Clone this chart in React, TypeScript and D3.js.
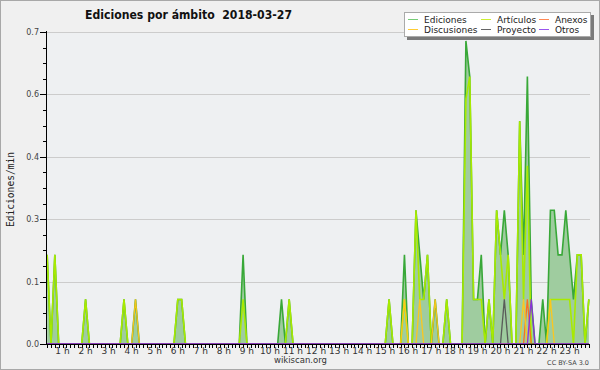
import React, { useEffect, useRef } from "react";
import * as d3 from "d3";

// 10 minute bins, first bin at 00:20
const binStartMin = 20;
const binStepMin = 10;

// Ediciones (total) per bin, edits/min
const ediciones = [
  0.2, 0, 0.2, 0, 0, 0, 0, 0, 0, 0, 0.1, 0,
  0, 0, 0, 0, 0, 0, 0, 0, 0.1, 0, 0, 0.1,
  0, 0, 0, 0, 0, 0, 0, 0, 0, 0, 0.1, 0.1,
  0, 0, 0, 0, 0, 0, 0, 0, 0, 0, 0, 0,
  0, 0, 0, 0.2, 0, 0, 0, 0, 0, 0, 0, 0,
  0, 0.1, 0, 0.1, 0, 0, 0, 0, 0, 0, 0, 0,
  0, 0, 0, 0, 0, 0, 0, 0, 0, 0, 0, 0,
  0, 0, 0, 0, 0, 0.1, 0, 0, 0, 0.2, 0, 0,
  0.3, 0.2, 0.1, 0.2, 0, 0.1, 0, 0, 0.1, 0, 0, 0,
  0, 0.68, 0.6, 0.1, 0.1, 0.2, 0, 0.1, 0, 0.3, 0.2, 0.3,
  0.2, 0, 0, 0.5, 0.2, 0.6, 0.1, 0, 0, 0.1, 0, 0.3,
  0.3, 0.2, 0.2, 0.3, 0.2, 0.1, 0.2, 0.2, 0, 0.1,
];

const articulos = [
  0.2, 0, 0.2, 0, 0, 0, 0, 0, 0, 0, 0.1, 0,
  0, 0, 0, 0, 0, 0, 0, 0, 0.1, 0, 0, 0,
  0, 0, 0, 0, 0, 0, 0, 0, 0, 0, 0.1, 0.1,
  0, 0, 0, 0, 0, 0, 0, 0, 0, 0, 0, 0,
  0, 0, 0, 0.1, 0, 0, 0, 0, 0, 0, 0, 0,
  0, 0, 0, 0.1, 0, 0, 0, 0, 0, 0, 0, 0,
  0, 0, 0, 0, 0, 0, 0, 0, 0, 0, 0, 0,
  0, 0, 0, 0, 0, 0.1, 0, 0, 0, 0.1, 0, 0,
  0.3, 0.1, 0.1, 0.2, 0, 0, 0, 0, 0.1, 0, 0, 0,
  0, 0.55, 0.6, 0.1, 0.1, 0.1, 0, 0.1, 0, 0.3, 0.2, 0.1,
  0.2, 0, 0, 0.5, 0.1, 0.4, 0, 0, 0, 0, 0, 0.1,
  0.1, 0.1, 0.1, 0.1, 0.1, 0, 0.2, 0.2, 0, 0.1,
];

// sparse series: [bin index, edits/min]
const discusiones = [[23, 0.1], [93, 0.1], [97, 0.1], [101, 0.1], [124, 0.1], [131, 0.1]];
const anexos = [[125, 0.1]];
const proyecto = [[119, 0.1]];
const otros = [[126, 0.1]];

const yTicks = [0, 0.14, 0.28, 0.42, 0.56, 0.7];
const yTickLabels = ["0.0", "0.1", "0.3", "0.4", "0.6", "0.7"];
const hourLabels = d3.range(1, 24).map(h => `${h} h`);

const legendItems = [
  { name: "Ediciones", color: "#77cc77", col: 0, row: 0 },
  { name: "Artículos", color: "#ccee33", col: 1, row: 0 },
  { name: "Anexos", color: "#ff8855", col: 2, row: 0 },
  { name: "Discusiones", color: "#ffcc33", col: 0, row: 1 },
  { name: "Proyecto", color: "#666666", col: 1, row: 1 },
  { name: "Otros", color: "#9955ee", col: 2, row: 1 },
];

const dense = (pairs: number[][]) => {
  const arr = ediciones.map(() => 0);
  pairs.forEach(([i, v]) => (arr[i] = v));
  return arr;
};

export default function App() {
  const ref = useRef<SVGSVGElement>(null);

  useEffect(() => {
    const svg = d3.select(ref.current);
    svg.selectAll("*").remove();

    const left = 46, right = 590, top = 32, bottom = 344;
    const x = d3.scaleLinear().domain([17, 1433]).range([left, right]);
    const y = d3.scaleLinear().domain([0, 0.7]).range([bottom, top]);
    const binX = (i: number) => x(binStartMin + i * binStepMin);

    // backgrounds
    svg.append("rect").attr("width", 600).attr("height", 370).attr("fill", "#f0f0f0");
    svg.append("rect").attr("x", 0.5).attr("y", 0.5).attr("width", 599).attr("height", 369)
      .attr("fill", "none").attr("stroke", "#a8a8a8");
    svg.append("rect").attr("x", left).attr("y", top).attr("width", right - left).attr("height", bottom - top)
      .attr("fill", "#eef0f2");

    // grid
    svg.selectAll(".grid").data(yTicks.slice(1)).join("line").attr("class", "grid")
      .attr("x1", left).attr("x2", right).attr("y1", d => Math.round(y(d)) + 0.5).attr("y2", d => Math.round(y(d)) + 0.5)
      .attr("stroke", "#cccccc");

    // area + lines
    const area = d3.area<number>().x((d, i) => binX(i)).y0(y(0)).y1(d => y(d));
    const line = d3.line<number>().x((d, i) => binX(i)).y(d => y(d));

    svg.append("path").attr("d", area(ediciones)).attr("fill", "#9fcc9f");
    svg.append("path").attr("d", line(ediciones)).attr("fill", "none").attr("stroke", "#38a838").attr("stroke-width", 1.6);
    svg.append("path").attr("d", line(articulos)).attr("fill", "none").attr("stroke", "#a8ea00").attr("stroke-width", 1.6);

    const extra = [
      { data: dense(anexos), color: "#ff6a1a" },
      { data: dense(discusiones), color: "#ffc61a" },
      { data: dense(proyecto), color: "#555555" },
      { data: dense(otros), color: "#8a2be2" },
    ];
    extra.forEach(s => {
      svg.append("path").attr("d", line(s.data)).attr("fill", "none").attr("stroke", s.color).attr("stroke-width", 1.3)
        .attr("stroke-opacity", 0.95);
    });
    // redraw baseline where zero lines cover the axis
    // y axis
    const axis = svg.append("g").attr("stroke", "#000").attr("shape-rendering", "crispEdges");
    axis.append("line").attr("x1", left).attr("x2", left).attr("y1", top - 1).attr("y2", bottom + 1);
    axis.selectAll(".ymin").data(d3.range(0, 21)).join("line")
      .attr("x1", left - 3).attr("x2", left).attr("y1", d => Math.round(y(d * 0.035)) + 0.5).attr("y2", d => Math.round(y(d * 0.035)) + 0.5);
    axis.selectAll(".ymaj").data(yTicks).join("line")
      .attr("x1", left - 6).attr("x2", left).attr("y1", d => Math.round(y(d)) + 0.5).attr("y2", d => Math.round(y(d)) + 0.5);

    svg.selectAll(".ylab").data(yTicks).join("text")
      .attr("x", 39).attr("y", d => y(d) + 3)
      .attr("text-anchor", "end").attr("font-family", "DejaVu Sans").attr("font-size", 8).attr("fill", "#444")
      .text((d, i) => yTickLabels[i]);

    // x axis
    axis.append("line").attr("x1", left).attr("x2", right).attr("y1", bottom + 0.5).attr("y2", bottom + 0.5);
    axis.selectAll(".xtick").data(d3.range(20, 1434, 10)).join("line")
      .attr("x1", d => Math.round(x(d)) + 0.5).attr("x2", d => Math.round(x(d)) + 0.5)
      .attr("y1", bottom).attr("y2", bottom + 4);

    svg.selectAll(".xlab").data(hourLabels).join("text")
      .attr("x", (d, i) => x((i + 1) * 60)).attr("y", 353.5)
      .attr("text-anchor", "middle").attr("font-family", "DejaVu Sans").attr("font-size", 9).attr("fill", "#333")
      .text(d => d);

    // titles
    svg.append("text").attr("x", 188.5).attr("y", 18.5).attr("text-anchor", "middle")
      .attr("font-family", "DejaVu Sans").attr("font-weight", "bold").attr("font-size", 11.5).attr("fill", "#111")
      .style("white-space", "pre").attr("textLength", 207).attr("lengthAdjust", "spacingAndGlyphs")
      .text("Ediciones por ámbito  2018-03-27");

    svg.append("text").attr("transform", "translate(14,189.5) rotate(-90)").attr("text-anchor", "middle")
      .attr("font-family", "DejaVu Sans Mono").attr("font-size", 9.6).attr("fill", "#222")
      .text("Ediciones/min");

    svg.append("text").attr("x", 300.5).attr("y", 362.5).attr("text-anchor", "middle")
      .attr("font-family", "DejaVu Sans").attr("font-size", 8.5).attr("fill", "#333").text("wikiscan.org");
    svg.append("text").attr("x", 589).attr("y", 364.5).attr("text-anchor", "end")
      .attr("font-family", "DejaVu Sans").attr("font-size", 6.5).attr("fill", "#444").text("CC BY-SA 3.0");

    // legend
    const lg = svg.append("g");
    lg.append("rect").attr("x", 407).attr("y", 15).attr("width", 187).attr("height", 25).attr("fill", "#7a7a7a");
    lg.append("rect").attr("x", 404.5).attr("y", 12.5).attr("width", 186).attr("height", 24)
      .attr("fill", "#fff").attr("stroke", "#aaa");
    const colX = [408, 481, 539];
    const rowY = [19.5, 29.5];
    legendItems.forEach(it => {
      lg.append("line").attr("x1", colX[it.col]).attr("x2", colX[it.col] + 10)
        .attr("y1", rowY[it.row]).attr("y2", rowY[it.row]).attr("stroke", it.color);
      lg.append("text").attr("x", colX[it.col] + 16).attr("y", rowY[it.row] + 3.2)
        .attr("font-family", "DejaVu Sans").attr("font-size", 9).attr("fill", "#222").text(it.name);
    });
  }, []);

  return <svg ref={ref} width={600} height={370} style={{ position: "absolute", left: 0, top: 0 }} />;
}
